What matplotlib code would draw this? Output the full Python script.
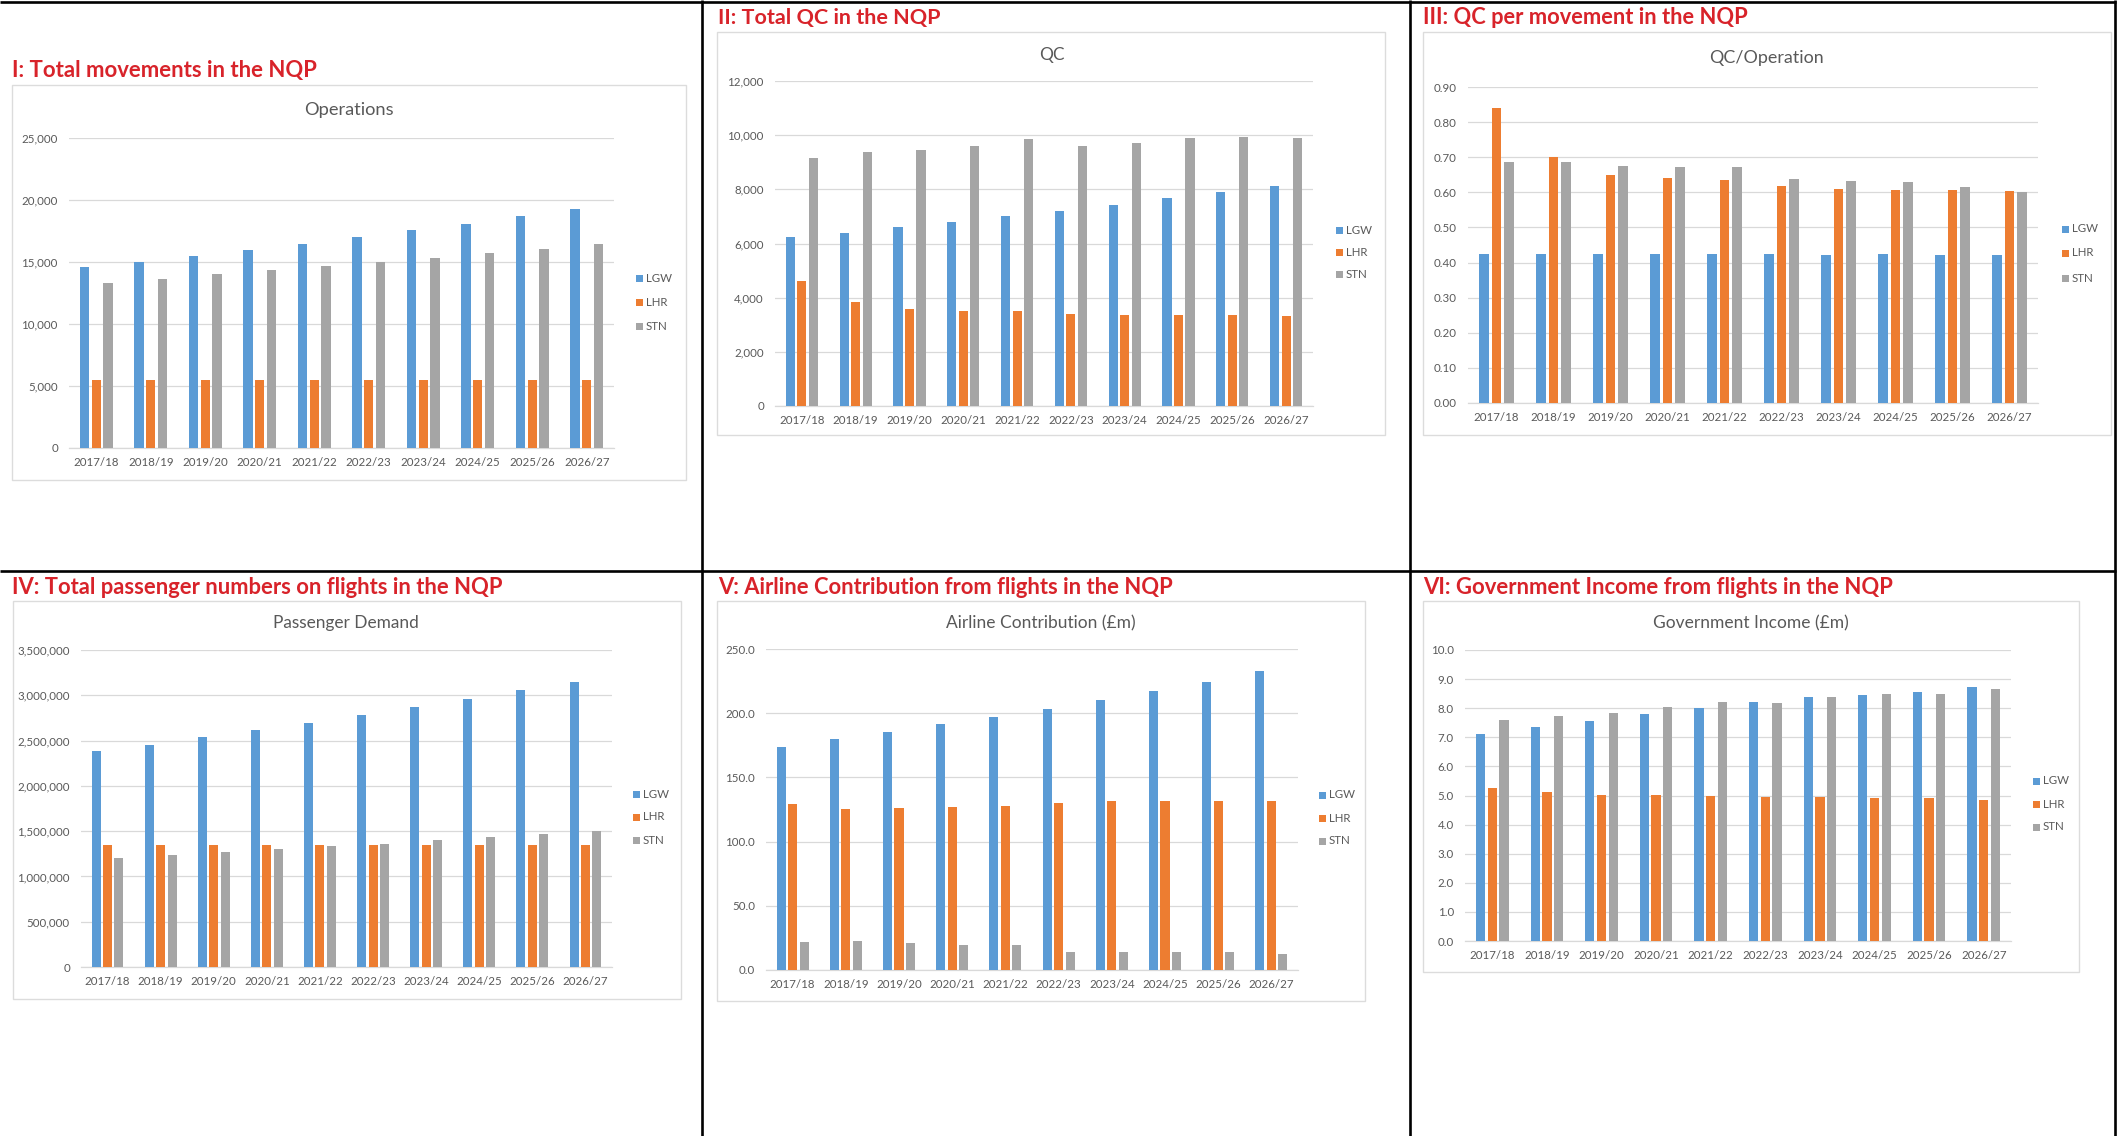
import matplotlib
matplotlib.use("Agg")
import matplotlib.pyplot as plt
import numpy as np
from matplotlib.patches import Rectangle
from matplotlib.ticker import FuncFormatter

# ---------------- data ----------------
categories = ['2017/18', '2018/19', '2019/20', '2020/21', '2021/22',
              '2022/23', '2023/24', '2024/25', '2025/26', '2026/27']
series_names = ['LGW', 'LHR', 'STN']

ops_lgw = [14570, 14980, 15490, 16000, 16490, 17000, 17560, 18080, 18670, 19290]
ops_lhr = [5470, 5470, 5470, 5470, 5470, 5470, 5470, 5470, 5470, 5470]
ops_stn = [13330, 13630, 14010, 14330, 14680, 14980, 15360, 15710, 16080, 16430]

qc_lgw = [6230, 6390, 6600, 6790, 7000, 7210, 7430, 7670, 7900, 8110]
qc_lhr = [4600, 3840, 3570, 3520, 3500, 3410, 3360, 3360, 3360, 3320]
qc_stn = [9160, 9390, 9440, 9610, 9860, 9590, 9720, 9880, 9940, 9910]

qcop_lgw = [0.425, 0.425, 0.425, 0.425, 0.425, 0.423, 0.421, 0.423, 0.421, 0.421]
qcop_lhr = [0.839, 0.700, 0.649, 0.641, 0.634, 0.619, 0.609, 0.608, 0.608, 0.604]
qcop_stn = [0.685, 0.685, 0.675, 0.671, 0.671, 0.637, 0.633, 0.630, 0.616, 0.601]

pax_lgw = [2381000, 2451000, 2536000, 2617000, 2694000, 2786000, 2875000, 2963000, 3062000, 3151000]
pax_lhr = [1343000, 1343000, 1343000, 1343000, 1343000, 1343000, 1343000, 1343000, 1343000, 1343000]
pax_stn = [1204000, 1233000, 1270000, 1299000, 1332000, 1362000, 1398000, 1432000, 1469000, 1502000]

ac_lgw = [174.0, 179.8, 185.7, 191.2, 197.2, 203.2, 210.2, 217.2, 224.3, 232.8]
ac_lhr = [129.0, 125.4, 126.4, 127.2, 127.7, 129.8, 131.4, 131.9, 131.9, 131.9]
ac_stn = [21.9, 22.4, 20.8, 19.3, 19.3, 14.3, 14.3, 14.3, 13.8, 12.7]

gi_lgw = [7.12, 7.35, 7.55, 7.80, 7.99, 8.21, 8.40, 8.44, 8.56, 8.74]
gi_lhr = [5.26, 5.13, 5.03, 5.02, 5.00, 4.95, 4.94, 4.90, 4.90, 4.85]
gi_stn = [7.59, 7.74, 7.85, 8.03, 8.22, 8.17, 8.38, 8.48, 8.48, 8.65]

section_titles = ['I: Total movements in the NQP', 'II: Total QC in the NQP',
                  'III: QC per movement in the NQP',
                  'IV: Total passenger numbers on flights in the NQP',
                  'V: Airline Contribution from flights in the NQP',
                  'VI: Government Income from flights in the NQP']
chart_titles = ['Operations', 'QC', 'QC/Operation', 'Passenger Demand',
                'Airline Contribution (£m)', 'Government Income (£m)']

# ---------------- style ----------------
W, H = 2122, 1136
COLORS = ['#5B9BD5', '#ED7D31', '#A5A5A5']
OFFS = [-0.215, 0.0, 0.215]
BW = 0.17
TXT = '#595959'
GRID = '#D9D9D9'
RED = '#D8232A'
plt.rcParams['font.family'] = ['Lato', 'DejaVu Sans']

fig = plt.figure(figsize=(W / 100, H / 100), dpi=100)
fig.patch.set_facecolor('white')
renderer = fig.canvas.get_renderer()

ov = fig.add_axes([0, 0, 1, 1], zorder=0)
ov.set_xlim(0, W)
ov.set_ylim(H, 0)
ov.axis('off')


def fr(x0, y0, x1, y1):
    return [x0 / W, 1 - y1 / H, (x1 - x0) / W, (y1 - y0) / H]


def fit(t, target):
    w = t.get_window_extent(renderer=renderer).width
    t.set_fontsize(t.get_fontsize() * target / w)


def fit_size(s, target, weight='normal'):
    t = ov.text(0, 0, s, fontsize=10, weight=weight)
    w = t.get_window_extent(renderer=renderer).width
    t.remove()
    return 10 * target / w


tick_fs = fit_size('2017/18', 45)

# table lines
LW = 1.9
ov.plot([0, 2116], [1.5, 1.5], color='black', lw=LW, solid_capstyle='butt')
ov.plot([0, 2116], [570.5, 570.5], color='black', lw=LW, solid_capstyle='butt')
for xv in [701.5, 1409.5, 2115]:
    ov.plot([xv, xv], [0, H], color='black', lw=LW, solid_capstyle='butt')

# panel layout (pixels)
panels = [
    dict(box=(12, 85, 686, 480), plot=(69, 138, 614, 448), st=(12, 77, 306), ct=(349, 115, 89),
         leg=(636, [278, 302, 326])),
    dict(box=(717, 32, 1385, 435), plot=(775, 81, 1313, 406), st=(718, 24, 223), ct=(1052, 60, 30),
         leg=(1336, [230, 252, 274])),
    dict(box=(1423, 32, 2111, 435), plot=(1468, 87, 2038, 403), st=(1423, 24, 326), ct=(1766, 63, 114),
         leg=(2062, [229, 253, 278])),
    dict(box=(13, 601, 681, 999), plot=(81, 650, 612, 967), st=(12, 594, 493), ct=(346, 628, 145),
         leg=(633, [794, 817, 840])),
    dict(box=(717, 601, 1365, 1001), plot=(766, 649, 1298, 970), st=(718, 594, 457), ct=(1041, 628, 189),
         leg=(1319, [795, 818, 841])),
    dict(box=(1423, 601, 2079, 972), plot=(1465, 650, 2011, 941), st=(1423, 594, 472), ct=(1751, 628, 194),
         leg=(2033, [781, 804, 827])),
]

datasets = [
    (ops_lgw, ops_lhr, ops_stn, 25000, 5000, lambda v, p: f'{v:,.0f}'),
    (qc_lgw, qc_lhr, qc_stn, 12000, 2000, lambda v, p: f'{v:,.0f}'),
    (qcop_lgw, qcop_lhr, qcop_stn, 0.9, 0.1, lambda v, p: f'{v:.2f}'),
    (pax_lgw, pax_lhr, pax_stn, 3500000, 500000, lambda v, p: f'{v:,.0f}'),
    (ac_lgw, ac_lhr, ac_stn, 250, 50, lambda v, p: f'{v:.1f}'),
    (gi_lgw, gi_lhr, gi_stn, 10, 1, lambda v, p: f'{v:.1f}'),
]

x = np.arange(len(categories))
for k, (p, d) in enumerate(zip(panels, datasets)):
    lgw, lhr, stn, ymax, step, fmt = d
    bx0, by0, bx1, by1 = p['box']
    ov.add_patch(Rectangle((bx0, by0), bx1 - bx0, by1 - by0, fill=False, ec='#DCDCDC', lw=1.0))

    # section title
    sx, sy, sw = p['st']
    t = ov.text(sx, sy, section_titles[k], fontsize=14, weight='bold', color=RED,
                ha='left', va='baseline')
    fit(t, sw)
    # chart title
    cx, cy, cw = p['ct']
    t = ov.text(cx, cy, chart_titles[k], fontsize=12, color=TXT, ha='center', va='baseline')
    if k != 1:
        fit(t, cw)
    else:
        t.set_fontsize(fit_size('Passenger Demand', 145))

    px0, py0, px1, py1 = p['plot']
    ax = fig.add_axes(fr(px0, py0, px1, py1), zorder=2)
    ax.set_facecolor('none')
    for i, vals in enumerate([lgw, lhr, stn]):
        ax.bar(x + OFFS[i], vals, width=BW, color=COLORS[i], zorder=3, linewidth=0)
    ax.set_xlim(-0.5, len(categories) - 0.5)
    ax.set_ylim(0, ymax)
    ax.set_yticks(np.arange(0, ymax + step / 2, step))
    ax.yaxis.set_major_formatter(FuncFormatter(fmt))
    ax.set_xticks(x)
    ax.set_xticklabels(categories)
    ax.tick_params(axis='both', length=0, labelsize=tick_fs, colors=TXT)
    ax.tick_params(axis='y', pad=8)
    ax.tick_params(axis='x', pad=6.5)
    ax.grid(axis='y', color=GRID, lw=0.9)
    ax.set_axisbelow(True)
    for s in ['top', 'right', 'left']:
        ax.spines[s].set_visible(False)
    ax.spines['bottom'].set_color(GRID)
    ax.spines['bottom'].set_linewidth(0.9)

    # legend
    lx, lys = p['leg']
    for i, ly in enumerate(lys):
        ov.add_patch(Rectangle((lx, ly - 3.5), 7, 7, color=COLORS[i], lw=0))
        ov.text(lx + 10, ly, series_names[i], fontsize=tick_fs, color=TXT, ha='left', va='center')

fig.savefig('out.png', dpi=100, facecolor='white')
